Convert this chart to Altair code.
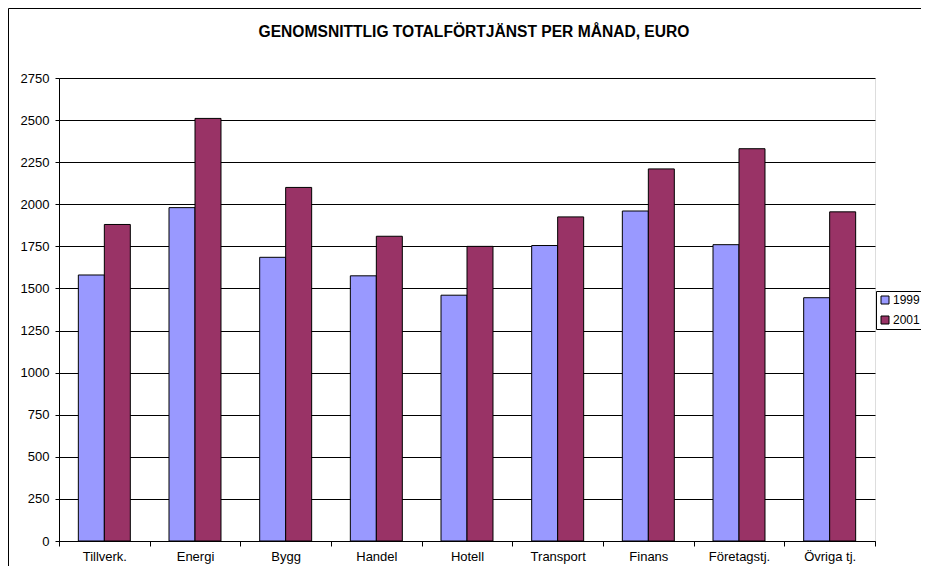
import altair as alt
import pandas as pd

categories = ["Tillverk.", "Energi", "Bygg", "Handel", "Hotell", "Transport", "Finans", "Företagstj.", "Övriga tj."]
years = ["1999", "2001"]
v1999 = [1580, 1980, 1685, 1575, 1460, 1755, 1960, 1760, 1445]
v2001 = [1880, 2510, 2100, 1810, 1750, 1925, 2210, 2330, 1955]
y_ticks = list(range(0, 2751, 250))
title_text = "GENOMSNITTLIG TOTALFÖRTJÄNST PER MÅNAD, EURO"

rows = []
for c, a, b in zip(categories, v1999, v2001):
    rows.append({"cat": c, "year": years[0], "value": a})
    rows.append({"cat": c, "year": years[1], "value": b})
df = pd.DataFrame(rows)

FONT = "Liberation Sans"
one = pd.DataFrame({"k": [0]})

frame_top = alt.Chart(one).mark_rule(color="black", strokeWidth=1).encode(
    x=alt.value(-50.5), x2=alt.value(950), y=alt.value(-69.5)
)
frame_left = alt.Chart(one).mark_rule(color="black", strokeWidth=1).encode(
    x=alt.value(-50.5), y=alt.value(-69.5), y2=alt.value(700)
)
title = alt.Chart(one).mark_text(
    text=title_text, font=FONT, fontSize=15.6, fontWeight="bold", color="black",
    align="center", baseline="middle",
).encode(x=alt.value(415), y=alt.value(-46))

bars = alt.Chart(df).mark_bar(stroke="black", strokeWidth=1).encode(
    x=alt.X(
        "cat:N",
        sort=categories,
        scale=alt.Scale(paddingInner=0, paddingOuter=0),
        axis=alt.Axis(
            title=None, labelAngle=0, tickBand="extent", tickSize=5,
            tickColor="black", domainColor="black", labelFontSize=13,
            labelPadding=4, labelColor="black", labelFont=FONT, grid=False,
        ),
    ),
    xOffset=alt.XOffset("year:N", sort=years, scale=alt.Scale(paddingInner=0, paddingOuter=0.744)),
    y=alt.Y(
        "value:Q",
        scale=alt.Scale(domain=[0, 2750], nice=False),
        axis=alt.Axis(
            title=None, values=y_ticks, format="d", grid=True, gridColor="black",
            gridOpacity=1, tickSize=4, tickColor="black", domainColor="black",
            labelFontSize=13, labelPadding=6, labelColor="black", labelFont=FONT,
        ),
    ),
    color=alt.Color(
        "year:N",
        scale=alt.Scale(domain=years, range=["#9999FF", "#993366"]),
        legend=alt.Legend(
            title=None, orient="none", legendX=817, legendY=213,
            strokeColor="black", fillColor="white", padding=3,
            symbolType="square", symbolSize=64, symbolStrokeColor="black",
            symbolStrokeWidth=1, symbolOpacity=1, labelFontSize=12, labelFont=FONT,
            labelColor="black", rowPadding=8, labelOffset=2,
        ),
    ),
)

chart = alt.layer(frame_top, frame_left, title, bars).properties(
    width=816,
    height=463,
    autosize=alt.AutoSizeParams(type="none"),
    padding={"left": 51, "top": 70, "right": 46, "bottom": 25},
).configure_view(stroke="#808080", strokeWidth=1).configure(font=FONT, background="white")

chart.save("out.html", embed_options={"renderer": "svg", "actions": False})
